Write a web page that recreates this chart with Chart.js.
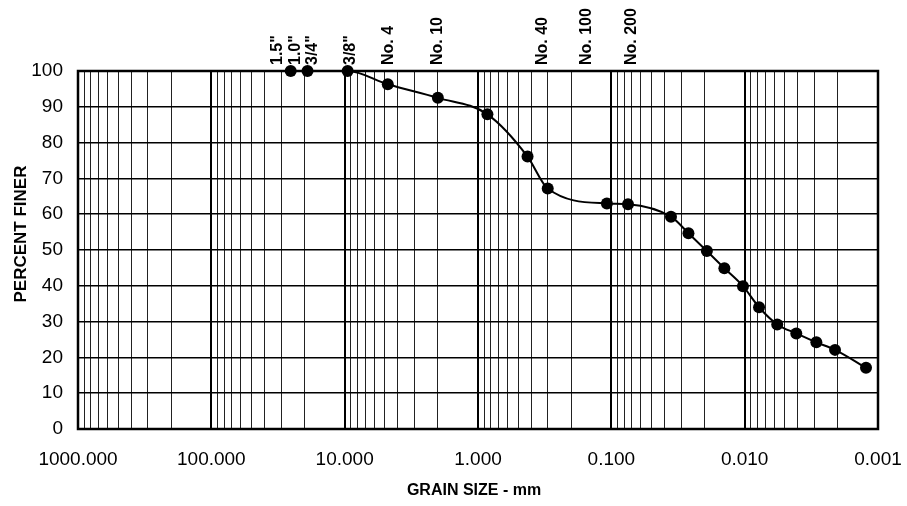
<!DOCTYPE html>
<html><head><meta charset="utf-8">
<script src="https://cdn.jsdelivr.net/npm/chart.js@4.4.0/dist/chart.umd.min.js"></script>
<style>html,body{margin:0;padding:0;background:#fff;} #wrap{width:907px;height:506px;position:relative;}</style>
</head><body><div id="wrap"><canvas id="c" width="907" height="506"></canvas></div>
<script>
// ---- data ----
const grainSizes = [25.4, 19.0, 9.5, 4.75, 2.0, 0.85, 0.425, 0.30, 0.108, 0.075, 0.0357, 0.0264, 0.0192, 0.0142, 0.0103, 0.0078, 0.0057, 0.0041, 0.0029, 0.0021, 0.00123];
const percentFiner = [100, 100, 100, 96.3, 92.5, 87.9, 76.1, 67.2, 63.0, 62.8, 59.3, 54.7, 49.7, 44.9, 39.9, 34.0, 29.2, 26.7, 24.2, 22.1, 17.1];
const sieveLabels = ['1.5"', '1.0"', '3/4"', '3/8"', 'No. 4', 'No. 10', 'No. 40', 'No. 100', 'No. 200'];
const sieveLabelSizes = [31.9, 23.4, 17.5, 9.0, 4.7, 2.02, 0.328, 0.154, 0.070];
const xMajorTicks = [1000, 100, 10, 1, 0.1, 0.01, 0.001];
const xMinorMultipliers = [2, 3, 4, 5, 6, 7, 8, 9];
const yTicks = [0, 10, 20, 30, 40, 50, 60, 70, 80, 90, 100];
const xTitle = 'GRAIN SIZE - mm';
const yTitle = 'PERCENT FINER';

const FONT = '"Liberation Sans", Arial, Helvetica, sans-serif';

function buildXTicks() {
  const t = [];
  xMajorTicks.forEach(v => t.push({ value: v, major: true }));
  xMajorTicks.forEach(v => {
    if (v >= 1000) return;
    xMinorMultipliers.forEach(m => t.push({ value: v * m, major: false }));
  });
  t.sort((a, b) => a.value - b.value);
  return t;
}

const extras = {
  id: 'extras',
  beforeDatasetsDraw(chart) {
    const { ctx, chartArea: a } = chart;
    ctx.save();
    ctx.strokeStyle = '#000';
    ctx.lineWidth = 2.5;
    ctx.strokeRect(a.left, a.top, a.right - a.left, a.bottom - a.top);
    ctx.restore();
  },
  afterDraw(chart) {
    const ctx = chart.ctx;
    const xs = chart.scales.x;
    ctx.save();
    ctx.fillStyle = '#000';
    ctx.font = 'bold 16px ' + FONT;
    ctx.textAlign = 'left';
    ctx.textBaseline = 'middle';
    sieveLabels.forEach((t, i) => {
      const px = xs.getPixelForValue(sieveLabelSizes[i]);
      ctx.save();
      ctx.translate(px, 65);
      ctx.rotate(-Math.PI / 2);
      ctx.fillText(t, 0, 0);
      ctx.restore();
    });
    ctx.font = 'bold 16px ' + FONT;
    ctx.textAlign = 'center';
    ctx.fillText(xTitle, 474, 491);
    ctx.font = 'bold 17px ' + FONT;
    ctx.save();
    ctx.translate(21, 234);
    ctx.rotate(-Math.PI / 2);
    ctx.fillText(yTitle, 0, 0);
    ctx.restore();
    ctx.restore();
  }
};

new Chart(document.getElementById('c'), {
  type: 'line',
  data: {
    datasets: [{
      data: grainSizes.map((x, i) => ({ x: x, y: percentFiner[i] })),
      borderColor: '#000',
      borderWidth: 2,
      backgroundColor: '#000',
      pointBackgroundColor: '#000',
      pointBorderColor: '#000',
      pointBorderWidth: 0,
      pointRadius: 6,
      cubicInterpolationMode: 'monotone',
      fill: false,
      clip: false
    }]
  },
  options: {
    responsive: false,
    animation: false,
    devicePixelRatio: 1,
    layout: { padding: { top: 71, right: 29, left: 0, bottom: 0 } },
    plugins: { legend: { display: false }, tooltip: { enabled: false }, title: { display: false } },
    scales: {
      x: {
        type: 'logarithmic',
        reverse: true,
        min: 0.001,
        max: 1000,
        afterBuildTicks: (scale) => { scale.ticks = buildXTicks(); },
        afterFit: (scale) => { scale.height = 77; },
        border: { display: false },
        grid: {
          drawTicks: false,
          color: (c) => (c.tick && c.tick.major) ? '#000' : '#222',
          lineWidth: (c) => (c.tick && c.tick.major) ? 2 : 1
        },
        ticks: {
          autoSkip: false,
          maxRotation: 0,
          minRotation: 0,
          padding: 19,
          color: '#000',
          font: { family: FONT, size: 19 },
          callback: function (value, index, ticks) {
            return ticks[index].major ? Number(value).toFixed(3) : '';
          }
        }
      },
      y: {
        type: 'linear',
        min: 0,
        max: 100,
        afterBuildTicks: (scale) => { scale.ticks = yTicks.map(v => ({ value: v })); },
        afterFit: (scale) => { scale.width = 78; },
        border: { display: false },
        grid: { drawTicks: false, color: '#000', lineWidth: 1.5 },
        ticks: {
          padding: 15,
          color: '#000',
          font: { family: FONT, size: 19 }
        }
      }
    }
  },
  plugins: [extras]
});
</script>
</body></html>
